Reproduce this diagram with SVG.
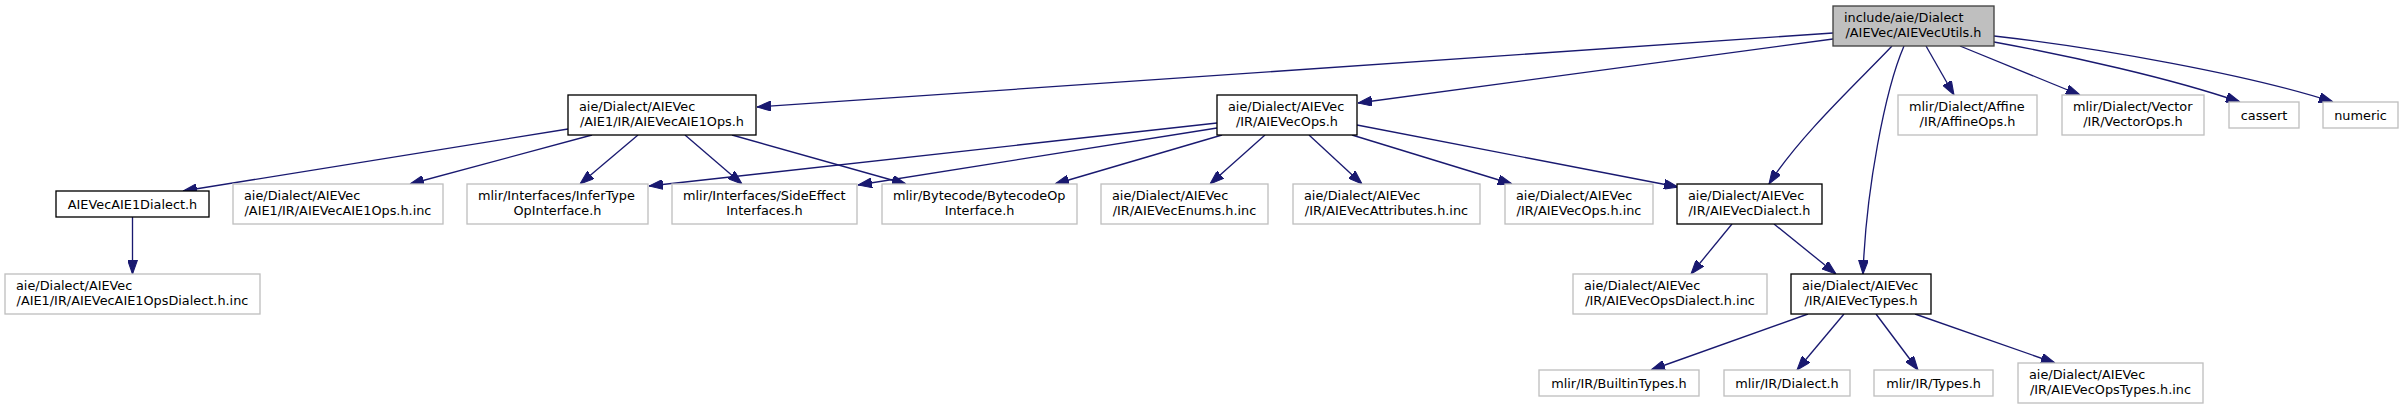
<svg xmlns="http://www.w3.org/2000/svg" width="2403" height="409" viewBox="0 0 2403 409">
<style>
rect{fill:#fff;stroke:#bfbfbf;stroke-width:1.33}
.d rect{stroke:#000}
.r rect{fill:#bfbfbf;stroke:#404040}
text{font-family:"DejaVu Sans","Liberation Sans",sans-serif;font-size:12.85px;fill:#000}
.c{text-anchor:middle}
#edges path{fill:none;stroke:#191970;stroke-width:1.33;marker-end:url(#ah)}
</style>
<defs>
<marker id="ah" markerUnits="userSpaceOnUse" markerWidth="14" markerHeight="10" viewBox="0 0 13.3 9.4" refX="13.3" refY="4.7" orient="auto">
<path d="M0,0 L13.3,4.7 L0,9.4 z" fill="#191970" stroke="#191970" stroke-width="1"/>
</marker>
</defs>
<rect x="0" y="0" width="2403" height="409" style="fill:#fff;stroke:none"/>
<g id="edges">
<path d="M1833,33 L757,107"/>
<path d="M1833,39 L1358,103"/>
<path d="M1892,46 C1862,78 1800,135 1769,184"/>
<path d="M1904,46 C1885,90 1866,190 1863,274"/>
<path d="M1926,46 L1954,95"/>
<path d="M1960,46 L2080,95"/>
<path d="M1994,42 C2070,56 2170,78 2240,102"/>
<path d="M1994,36 C2100,48 2250,75 2333,102"/>
<path d="M568,129 L183,191"/>
<path d="M592,135 L410,184"/>
<path d="M638,135 L580,184"/>
<path d="M685,135 L742,184"/>
<path d="M732,135 L906,184"/>
<path d="M1217,123 L649,186"/>
<path d="M1217,128 L858,185"/>
<path d="M1222,135 L1055,184"/>
<path d="M1265,135 L1210,184"/>
<path d="M1309,135 L1362,184"/>
<path d="M1352,135 L1512,184"/>
<path d="M1357,125 L1678,187"/>
<path d="M132.5,217 L132.5,274"/>
<path d="M1732,224 L1691,274"/>
<path d="M1774,224 L1836,274"/>
<path d="M1808,314 L1651,370"/>
<path d="M1844,314 L1797,370"/>
<path d="M1876,314 L1918,370"/>
<path d="M1915,314 L2055,363"/>
</g>
<g id="root" class="r"><rect x="1833" y="6" width="161" height="40"/><text x="1844" y="21.5">include/aie/Dialect</text><text class="c" x="1913.5" y="36.5">/AIEVec/AIEVecUtils.h</text></g>
<g id="aie1ops" class="d"><rect x="568" y="95" width="188" height="40"/><text x="579" y="110.5">aie/Dialect/AIEVec</text><text class="c" x="662" y="125.5">/AIE1/IR/AIEVecAIE1Ops.h</text></g>
<g id="aievecops" class="d"><rect x="1217" y="95" width="140" height="40"/><text x="1228" y="110.5">aie/Dialect/AIEVec</text><text class="c" x="1287" y="125.5">/IR/AIEVecOps.h</text></g>
<g id="affine"><rect x="1898" y="95" width="139" height="40"/><text x="1909" y="110.5">mlir/Dialect/Affine</text><text class="c" x="1967.5" y="125.5">/IR/AffineOps.h</text></g>
<g id="vector"><rect x="2062" y="95" width="142" height="40"/><text x="2073" y="110.5">mlir/Dialect/Vector</text><text class="c" x="2133" y="125.5">/IR/VectorOps.h</text></g>
<g id="cassert"><rect x="2229" y="102" width="70" height="26"/><text class="c" x="2264" y="119.5">cassert</text></g>
<g id="numeric"><rect x="2323" y="102" width="75" height="26"/><text class="c" x="2360.5" y="119.5">numeric</text></g>
<g id="aie1dialect" class="d"><rect x="56" y="191" width="153" height="26"/><text class="c" x="132.5" y="208.5">AIEVecAIE1Dialect.h</text></g>
<g id="aie1opsinc"><rect x="233" y="184" width="210" height="40"/><text x="244" y="199.5">aie/Dialect/AIEVec</text><text class="c" x="338" y="214.5">/AIE1/IR/AIEVecAIE1Ops.h.inc</text></g>
<g id="infertype"><rect x="467" y="184" width="181" height="40"/><text x="478" y="199.5">mlir/Interfaces/InferType</text><text class="c" x="557.5" y="214.5">OpInterface.h</text></g>
<g id="sideeffect"><rect x="672" y="184" width="185" height="40"/><text x="683" y="199.5">mlir/Interfaces/SideEffect</text><text class="c" x="764.5" y="214.5">Interfaces.h</text></g>
<g id="bytecode"><rect x="882" y="184" width="195" height="40"/><text x="893" y="199.5">mlir/Bytecode/BytecodeOp</text><text class="c" x="979.5" y="214.5">Interface.h</text></g>
<g id="enums"><rect x="1101" y="184" width="167" height="40"/><text x="1112" y="199.5">aie/Dialect/AIEVec</text><text class="c" x="1184.5" y="214.5">/IR/AIEVecEnums.h.inc</text></g>
<g id="attributes"><rect x="1293" y="184" width="187" height="40"/><text x="1304" y="199.5">aie/Dialect/AIEVec</text><text class="c" x="1386.5" y="214.5">/IR/AIEVecAttributes.h.inc</text></g>
<g id="opsinc"><rect x="1505" y="184" width="148" height="40"/><text x="1516" y="199.5">aie/Dialect/AIEVec</text><text class="c" x="1579" y="214.5">/IR/AIEVecOps.h.inc</text></g>
<g id="aievecdialect" class="d"><rect x="1677" y="184" width="145" height="40"/><text x="1688" y="199.5">aie/Dialect/AIEVec</text><text class="c" x="1749.5" y="214.5">/IR/AIEVecDialect.h</text></g>
<g id="aie1opsdialectinc"><rect x="5" y="274" width="255" height="40"/><text x="16" y="289.5">aie/Dialect/AIEVec</text><text class="c" x="132.5" y="304.5">/AIE1/IR/AIEVecAIE1OpsDialect.h.inc</text></g>
<g id="opsdialectinc"><rect x="1573" y="274" width="194" height="40"/><text x="1584" y="289.5">aie/Dialect/AIEVec</text><text class="c" x="1670" y="304.5">/IR/AIEVecOpsDialect.h.inc</text></g>
<g id="aievectypes" class="d"><rect x="1791" y="274" width="140" height="40"/><text x="1802" y="289.5">aie/Dialect/AIEVec</text><text class="c" x="1861" y="304.5">/IR/AIEVecTypes.h</text></g>
<g id="builtintypes"><rect x="1539" y="370" width="160" height="26"/><text class="c" x="1619" y="387.5">mlir/IR/BuiltinTypes.h</text></g>
<g id="irdialect"><rect x="1724" y="370" width="126" height="26"/><text class="c" x="1787" y="387.5">mlir/IR/Dialect.h</text></g>
<g id="irtypes"><rect x="1874" y="370" width="119" height="26"/><text class="c" x="1933.5" y="387.5">mlir/IR/Types.h</text></g>
<g id="opstypesinc"><rect x="2018" y="363" width="185" height="40"/><text x="2029" y="378.5">aie/Dialect/AIEVec</text><text class="c" x="2110.5" y="393.5">/IR/AIEVecOpsTypes.h.inc</text></g>
</svg>
